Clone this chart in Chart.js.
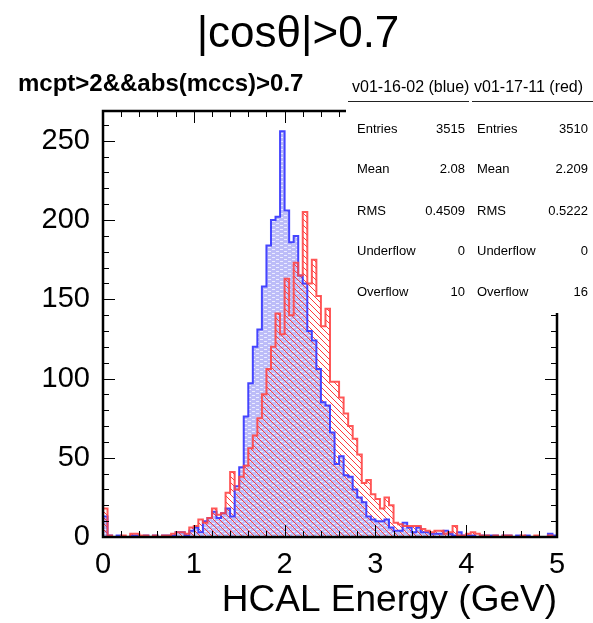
<!DOCTYPE html>
<html><head><meta charset="utf-8">
<script src="https://cdn.jsdelivr.net/npm/chart.js@4/dist/chart.umd.min.js"></script>
<style>html,body{margin:0;padding:0;background:#fff;} #c{display:block;}</style>
</head><body>
<canvas id="c" width="593" height="623"></canvas>
<script>
// ---- data (100 bins, 0..5 GeV) ----
const xMin = 0, xMax = 5, binWidth = 0.05;
const blueCounts = [
 13,1,0,1,0,0,1,1,0,1, 0,1,0,1,1,1,3,3,1,4,
 6,3,10,12,16,12,15,18,13,32, 44,76,97,120,131,158,184,200,202,256,
 206,186,190,165,160,130,124,106,85,83, 66,46,51,39,38,30,25,22,13,11,
 10,10,11,6,4,4,9,6,3,6, 3,3,2,2,2,4,2,1,3,1,
 1,1,0,1,1,1,1,0,1,1, 0,1,0,1,0,0,0,0,2,1];
const redCounts = [
 18,1,0,0,1,0,2,2,1,1, 0,1,0,1,1,2,3,3,2,6,
 7,11,9,12,18,14,15,28,41,30, 38,45,56,64,75,90,106,120,141,128,
 163,140,173,165,205,160,175,152,133,144, 98,98,88,78,70,62,52,34,36,27,
 24,18,25,20,9,8,7,7,7,7, 5,4,3,4,4,2,3,7,1,1,
 2,3,2,1,1,0,1,0,1,1, 0,0,1,0,0,1,0,0,1,0];
const xTicks = [0,1,2,3,4,5];
const yTicks = [0,50,100,150,200,250];
const titleText = '|cosθ|>0.7';
const subtitleText = 'mcpt>2&&abs(mccs)>0.7';
const xTitle = 'HCAL Energy (GeV)';
const statNames = ['Entries','Mean','RMS','Underflow','Overflow'];
const blueName = 'v01-16-02 (blue)';
const redName = 'v01-17-11 (red)';
const blueStats = ['3515','2.08','0.4509','0','10'];
const redStats = ['3510','2.209','0.5222','0','16'];

const FONT = "'Liberation Sans', Helvetica, Arial, sans-serif";

function histPoints(counts){
  const pts = [{x: xMin, y: 0}];
  counts.forEach((c,i)=>pts.push({x: xMin + i*binWidth, y: c}));
  pts.push({x: xMax, y: counts[counts.length-1]});
  pts.push({x: xMax, y: 0});
  return pts;
}

const canvas = document.getElementById('c');
const ctx = canvas.getContext('2d');

function bluePattern(){
  const p = document.createElement('canvas'); p.width = 8; p.height = 4;
  const g = p.getContext('2d');
  g.fillStyle = '#bcbcf8'; g.fillRect(0,0,8,4);
  g.fillStyle = '#ececff'; g.fillRect(0,1,3,1); g.fillRect(4,3,3,1);
  return ctx.createPattern(p,'repeat');
}
function redPattern(){
  const p = document.createElement('canvas'); p.width = 6; p.height = 6;
  const g = p.getContext('2d');
  g.strokeStyle = 'rgba(255,50,50,0.95)'; g.lineWidth = 1.0;
  g.beginPath();
  g.moveTo(-1,-1); g.lineTo(7,7);
  g.moveTo(-7,-1); g.lineTo(1,7);
  g.moveTo(5,-1); g.lineTo(13,7);
  g.stroke();
  return ctx.createPattern(p,'repeat');
}

const yMax = Math.max(...blueCounts, ...redCounts) * 1.05;

const decor = {
  id: 'decor',
  afterDatasetsDraw(chart){
    const c = chart.ctx, xs = chart.scales.x, ys = chart.scales.y;
    const a = chart.chartArea;
    c.save();
    c.strokeStyle = '#000';
    c.lineWidth = 1;
    for (let v = 0; v <= yMax; v += 10){
      const y = Math.round(ys.getPixelForValue(v)) + 0.5;
      const L = (v % 50 === 0) ? 12 : 6;
      c.beginPath(); c.moveTo(a.left, y); c.lineTo(a.left + L, y);
      c.moveTo(a.right, y); c.lineTo(a.right - L, y); c.stroke();
    }
    for (let k = 0; k <= 25; k++){
      const v = k*0.2;
      const x = Math.round(xs.getPixelForValue(v)) + 0.5;
      const L = (k % 5 === 0) ? 12 : 6;
      c.beginPath(); c.moveTo(x, a.bottom); c.lineTo(x, a.bottom - L);
      c.moveTo(x, a.top); c.lineTo(x, a.top + L); c.stroke();
    }
    c.lineWidth = 2.5;
    c.strokeRect(a.left, a.top, a.right - a.left, a.bottom - a.top);
    c.restore();
  },
  afterDraw(chart){
    const c = chart.ctx;
    c.save();
    c.fillStyle = '#fff';
    c.fillRect(346, 64, 593-346, 313-64);
    c.fillStyle = '#000';
    c.textBaseline = 'alphabetic';
    c.font = '16px ' + FONT;
    c.textAlign = 'left';
    c.fillText(blueName, 352, 92);
    c.fillText(redName, 474, 92);
    c.strokeStyle = '#222'; c.lineWidth = 1;
    c.beginPath(); c.moveTo(348, 101.5); c.lineTo(469, 101.5);
    c.moveTo(472, 101.5); c.lineTo(593, 101.5); c.stroke();
    c.font = '13px ' + FONT;
    const rowY = [133, 173, 215, 255, 296];
    statNames.forEach((n,i)=>{
      c.textAlign = 'left';
      c.fillText(n, 357, rowY[i]);
      c.fillText(n, 477, rowY[i]);
      c.textAlign = 'right';
      c.fillText(blueStats[i], 465, rowY[i]);
      c.fillText(redStats[i], 588, rowY[i]);
    });
    c.textAlign = 'center';
    c.font = '44px ' + FONT;
    c.fillText(titleText, 298, 47);
    c.textAlign = 'left';
    c.font = 'bold 24px ' + FONT;
    c.fillText(subtitleText, 18, 91);
    c.textAlign = 'right';
    c.font = '37px ' + FONT;
    c.fillText(xTitle, 557, 611);
    c.restore();
  }
};

new Chart(ctx, {
  type: 'line',
  data: {
    datasets: [
      { label: redName, data: histPoints(redCounts), stepped: true,
        borderColor: 'rgba(255,70,70,0.9)', borderWidth: 2,
        backgroundColor: redPattern(), fill: 'origin', pointRadius: 0 },
      { label: blueName, data: histPoints(blueCounts), stepped: true,
        borderColor: 'rgba(60,60,255,0.95)', borderWidth: 2,
        backgroundColor: bluePattern(), fill: 'origin', pointRadius: 0 }
    ]
  },
  options: {
    responsive: false, animation: false, devicePixelRatio: 1,
    layout: { padding: { left: 0, right: 36, top: 111, bottom: 0 } },
    plugins: { legend: { display: false }, tooltip: { enabled: false },
      filler: { drawTime: 'beforeDatasetsDraw' } },
    scales: {
      x: { type: 'linear', min: xMin, max: xMax,
        grid: { display: false, drawTicks: false }, border: { display: false },
        afterBuildTicks: s => { s.ticks = xTicks.map(v => ({ value: v })); },
        afterFit: s => { s.height = 86; },
        ticks: { color: '#000', font: { family: FONT, size: 29 }, padding: 11,
          maxRotation: 0, autoSkip: false } },
      y: { type: 'linear', min: 0, max: yMax,
        grid: { display: false, drawTicks: false }, border: { display: false },
        afterBuildTicks: s => { s.ticks = yTicks.map(v => ({ value: v })); },
        afterFit: s => { s.width = 103; },
        ticks: { color: '#000', font: { family: FONT, size: 29 }, padding: 13 } }
    }
  },
  plugins: [decor]
});
</script>
</body></html>
